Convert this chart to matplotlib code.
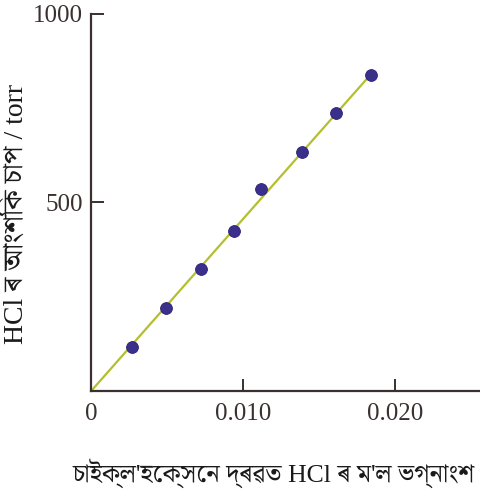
import matplotlib
matplotlib.use("Agg")
import matplotlib.pyplot as plt
import numpy as np

# HCl mole fraction in cyclohexane vs partial pressure
moleFraction = [0.0027, 0.0049, 0.0072, 0.0094, 0.0112, 0.0139, 0.0161, 0.0184]
pressure = [117, 220, 323, 425, 536, 633, 736, 839]
fitX = [0.0, 0.0184]
fitY = [0.0, 839]

xTicks = [0, 0.010, 0.020]
xTickLabels = ["0", "0.010", "0.020"]
yTicks = [500, 1000]
yTickLabels = ["500", "1000"]

xLabel = "চাইক্ল'হেক্সেন দ্ৰৱত HCl ৰ ম'ল ভগ্নাংশ"
yLabel = "HCl ৰ আংশিক চাপ / torr"

plt.rcParams['font.family'] = ['Liberation Serif', 'Noto Serif Bengali', 'DejaVu Sans']

fig = plt.figure(figsize=(4.8, 4.93), dpi=100)
ax = fig.add_axes([0.19, 0.207, 0.81, 0.765])

ax.plot(fitX, fitY, color="#b3bf2e", lw=1.6, zorder=2)
ax.plot(moleFraction, pressure, "o", ms=8.5, color="#3b2f8c",
        markeredgecolor="#2a2070", mew=0.6, zorder=3)

ax.set_xlim(0, 0.0256)
ax.set_ylim(0, 1000)
ax.set_xticks(xTicks)
ax.set_xticklabels(xTickLabels)
ax.set_yticks(yTicks)
ax.set_yticklabels(yTickLabels)
ax.tick_params(direction="in", length=9, width=1.4, colors="#3a3030",
               labelsize=18, pad=6)
ax.tick_params(axis="x", pad=9)
ax.get_yticklines()[0].set_color("#a9a82a")

for s in ["top", "right"]:
    ax.spines[s].set_visible(False)
for s in ["left", "bottom"]:
    ax.spines[s].set_linewidth(1.6)
    ax.spines[s].set_color("#3a3030")

ax.set_xlabel(xLabel, fontsize=18.5, color="#1a1a1a")
ax.set_ylabel(yLabel, fontsize=20, color="#1a1a1a")
ax.xaxis.set_label_coords(0.47, -0.18)
ax.yaxis.set_label_coords(-0.16, 0.47)

fig.savefig("out.png", dpi=100)
